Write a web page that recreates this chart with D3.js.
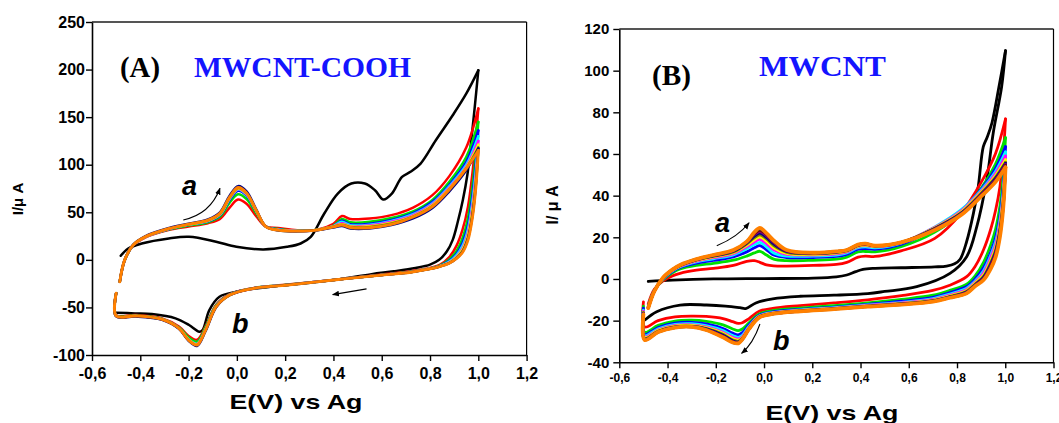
<!DOCTYPE html>
<html><head><meta charset="utf-8">
<script src="https://cdn.jsdelivr.net/npm/d3@7"></script>
<style>body{margin:0;background:#fff}svg{display:block}</style>
</head><body>
<svg id="c" width="1059" height="423"></svg>
<script>
// ---------- tick values ----------
const xTicks = [-0.6,-0.4,-0.2,0.0,0.2,0.4,0.6,0.8,1.0,1.2];
const yTicksA = [-100,-50,0,50,100,150,200,250];
const yTicksB = [-40,-20,0,20,40,60,80,100,120];
const seriesNamesA = ["red","green","blue","cyan","magenta","yellow","olive","navy","orange"];
const seriesColorsA = ["#ff0000","#00e000","#0000ff","#00ffff","#ff00ff","#ffff00","#808000","#000080","#ff8000"];
const seriesNamesB = ["red","green","blue","cyan","magenta","yellow","olive","navy","purple","maroon","darkgray","orange"];
const seriesColorsB = ["#ff0000","#00e000","#0000ff","#00ffff","#ff00ff","#ffff00","#808000","#000080","#800080","#800000","#404040","#ff8000"];

// ---------- Panel A: MWCNT-COOH ----------
const aBlackFwdE = [-0.481,-0.45,-0.394,-0.282,-0.198,-0.086,-0.002,0.11,0.208,0.264,0.306,0.362,0.418,0.474,0.53,0.572,0.607,0.642,0.684,0.719,0.761,0.824,0.894,0.95,1.0];
const aBlackFwdI = [4.3,12,17.2,22.5,24.2,19,13.7,11,13.7,17.2,24.2,48.7,69.7,80.2,80.2,73.2,63.4,69.7,87.2,92.5,101.2,125.7,152,174.7,199.2];
const aBlackRevE = [1.0,0.985,0.971,0.955,0.936,0.915,0.894,0.87,0.838,0.8,0.74,0.65,0.558,0.418,0.278,0.138,-0.002,-0.072,-0.114,-0.142,-0.156,-0.198,-0.254,-0.352,-0.422,-0.5];
const aBlackRevI = [199.2,160,126,90,63,40,21,9,0,-5,-8.5,-12,-15,-20.6,-24.8,-28.3,-33.5,-38.8,-52.8,-73.8,-75.5,-68.5,-61.5,-57,-56.3,-55.5];

const aFwdE = [-0.485,-0.465,-0.43,-0.38,-0.28,-0.2,-0.12,-0.07,-0.03,0.005,0.04,0.08,0.12,0.17,0.25,0.33,0.40,0.435,0.47,0.55,0.64,0.73,0.81,0.88,0.95,1.0];
const aFwdRed     = [-23,-1,15,23.5,31.5,35,38.5,43,55,63.5,59,46,35,33.5,31,31.5,38,46,43,43.5,47,55,68,88,118,159];
const aFwdGreen   = [-23,-0.8,15.2,23.8,32,36,39.5,45.5,60,69,64,49,35,32.5,30.6,31.3,36,43,39.5,40,44,51,63,82,108,145];
const aFwdBlue    = [-23,-0.6,15.3,24,32.5,37,40.5,47,63,72.5,67.5,51,35,32,30.4,31.2,35.5,41,37.5,38,42,49,61,79,103,136];
const aFwdCyan    = [-23,-0.5,15.4,24,32.6,37,40.8,47.5,64,74,68.5,51.3,35,31.8,30.4,31.3,35.5,40,36.5,37,41,48,59.5,77.5,100,130];
const aFwdMagenta = [-23,-0.4,15.4,24,32.7,37.2,41,47.8,64.5,74.5,69,51.5,35,31.6,30.3,31.3,35.3,38.5,35.5,36,40,47,58.5,76,98,125];
const aFwdYellow  = [-23,-0.3,15.5,24.1,32.8,37.3,41.2,48,65,75,69.5,51.8,35,31.5,30.3,31.3,35.2,37.5,35,35.2,39,46,57.5,75,97,121];
const aFwdOlive   = [-23,-0.3,15.5,24.2,33,37.5,41.5,48.5,65.5,75.5,70,52,35,31.2,30.2,31.3,35,37,34.5,34.6,38.2,45.5,56.5,74,96,118];
const aFwdNavy    = [-23,-0.2,15.8,24.8,33.5,38,42.5,50,67.5,77.5,72,53,35,31,30,31,34,35.5,33,33,36.5,43.5,54.5,72,94,117];
const aFwdOrange  = [-23,-0.3,15.5,24.2,33,37.5,41.7,49,66,76,70.4,52.2,35,31.2,30.2,31.2,34.7,36.5,34,33.8,37.2,45,56,74,96,115];

const aRevE = [1.0,0.99,0.976,0.957,0.935,0.91,0.88,0.84,0.8,0.72,0.6,0.42,0.21,0.07,-0.03,-0.085,-0.13,-0.165,-0.2,-0.24,-0.31,-0.42,-0.5,-0.5];
const aRevRed     = [159,128,92,55.7,32,15,3,-5.3,-8.5,-12,-15.5,-20.6,-26,-29.5,-36,-47,-70,-84,-80,-70,-61.5,-58,-58,-35];
const aRevGreen   = [145,112,78,44,23,9.5,0.5,-6,-9,-12.5,-15.8,-20.6,-26.2,-29.7,-36.3,-47.5,-71,-86,-81.5,-71,-62,-58.5,-58.5,-35];
const aRevBlue    = [136,102,68,36,18,6.5,-1,-6.5,-9.2,-12.7,-15.9,-20.6,-26.3,-29.8,-36.6,-48.5,-73,-89,-84,-72,-62.5,-59,-59,-35];
const aRevCyan    = [130,95,62,32,15,5,-1.8,-6.7,-9.3,-12.8,-16,-20.6,-26.4,-29.9,-36.8,-48.5,-73,-88,-83.5,-71.5,-62.3,-59,-59,-35];
const aRevMagenta = [125,89,57,28.5,12.5,3.5,-2.5,-6.8,-9.4,-12.9,-16,-20.6,-26.4,-30,-36.9,-48.8,-73.5,-88.5,-84,-72,-62.5,-59,-59,-35];
const aRevYellow  = [121,85,53,26,11,2.8,-3,-6.9,-9.4,-12.9,-16,-20.6,-26.5,-30,-37,-49,-73.8,-89,-84,-72,-62.5,-59,-59,-35];
const aRevOlive   = [118,81,49,23.5,9.5,2,-3.3,-7,-9.5,-13,-16,-20.6,-26.5,-30,-37,-49,-74,-89.5,-84.3,-72,-62.6,-59,-59,-35];
const aRevNavy    = [117,79,47,22,8.7,1.7,-3.5,-7,-9.5,-13,-16,-20.6,-26.5,-30,-37.2,-49.5,-75,-90.5,-85,-72.5,-63,-59.5,-59.5,-35];
const aRevOrange  = [115,76.7,45.2,20.7,8,1.5,-3.5,-7,-9.5,-13,-16,-20.6,-26.5,-30,-37,-49,-74,-89.5,-84.3,-72,-62.6,-59,-59,-35];

// ---------- Panel B: MWCNT ----------
const bBlackFwdE = [-0.48,-0.38,-0.21,0.0,0.204,0.3,0.343,0.38,0.41,0.46,0.568,0.708,0.757,0.79,0.813,0.84,0.868,0.888,0.909,0.925,0.945,0.975,1.001];
const bBlackFwdI = [-1.2,-0.6,0,0.2,0.4,1.0,1.9,3.5,4.6,5.1,5.4,5.8,6.2,7.3,9.5,18,31.5,44.3,63.5,68,75,93,109.6];
const bBlackRevE = [1.001,0.985,0.95,0.923,0.882,0.84,0.771,0.633,0.5,0.43,0.29,0.15,0.036,-0.034,-0.076,-0.1,-0.16,-0.238,-0.348,-0.445,-0.494];
const bBlackRevI = [109.6,92.3,70,47.5,25.1,10.7,2.7,-3.7,-6,-7,-7.8,-8.3,-9.5,-11.5,-14.2,-13.8,-13,-12.5,-12.5,-15.7,-19.7];

const bFwdE = [-0.48,-0.455,-0.42,-0.38,-0.348,-0.28,-0.21,-0.127,-0.072,-0.04,-0.017,0.01,0.04,0.094,0.204,0.3,0.343,0.39,0.42,0.46,0.568,0.708,0.82,0.903,0.959,1.001];
const bFwdRed      = [-12,-5,-1,1.5,2.7,4.2,5.1,6.5,8.5,8.8,8,6.8,6.3,6.2,6.5,7,8,10.5,11,10.8,13.5,19.5,32,47,60,76.8];
const bFwdGreen    = [-13,-5.5,-0.5,3,4.8,6.5,7.5,9,11,12.5,13.3,11.5,9.5,8.8,9,9.5,10.5,13,13.2,13,15.5,22.5,32,44,55,67.8];
const bFwdBlue     = [-13.3,-5.6,-0.2,3.6,5.5,7.6,8.9,10.6,13,15,16,14,11.5,10.3,10.3,10.8,11.8,14.3,14.6,14.2,16.6,24.5,33,43.5,53,63.5];
const bFwdCyan     = [-13.5,-5.7,0,3.9,5.9,8.2,9.7,11.6,14.5,16.5,17.6,15.5,12.5,11,11,11.5,12.5,15,15.4,15,17.2,25,33.5,43,51.5,61];
const bFwdMagenta  = [-13.6,-5.8,0.1,4.1,6.1,8.6,10.2,12.2,15.5,17.8,19,17,14,11.8,11.5,12,13,15.5,16,15.4,17.4,24.8,33,42.5,50.5,59];
const bFwdYellow   = [-13.7,-5.8,0.2,4.2,6.3,8.9,10.6,12.6,16.2,18.8,20.2,18.2,15,12.3,11.8,12.4,13.3,15.8,16.3,15.6,17.5,24.6,32.5,42,49.5,57.2];
const bFwdOlive    = [-13.8,-5.9,0.3,4.3,6.4,9.1,10.9,13,16.8,19.8,21.2,19.2,16,12.8,12.1,12.7,13.5,16,16.5,15.8,17.5,24.4,32,41.5,48.8,56];
const bFwdNavy     = [-13.8,-5.9,0.3,4.4,6.5,9.2,11.1,13.3,17.2,20.6,22,20,16.8,13.2,12.3,12.9,13.7,16.2,16.7,15.9,17.5,24.2,31.8,41,48.2,55.5];
const bFwdPurple   = [-13.9,-6,0.4,4.5,6.6,9.3,11.3,13.6,17.5,21.3,22.8,20.8,17.5,13.5,12.4,13,13.8,16.3,16.8,15.9,17.5,24,31.5,40.8,47.6,55];
const bFwdMaroon   = [-13.9,-6,0.4,4.5,6.6,9.4,11.4,13.7,17.7,21.8,23.4,21.4,18,13.7,12.5,13.1,13.9,16.4,16.9,16,17.6,23.8,31.3,40.5,47.2,54.5];
const bFwdDarkgray = [-14,-6,0.5,4.5,6.7,9.5,11.5,13.8,17.8,22.2,24,21.8,18.3,13.8,12.6,13.2,13.9,16.5,17,16,17.6,23.6,31.1,40.2,46.8,54];
const bFwdOrange   = [-14,-6,0.5,4.5,6.7,9.5,11.5,13.9,17.9,22.5,24.5,22,18.5,13.9,12.6,13.2,13.9,16.5,17,16,17.6,23.5,31,40,46.5,53.6];

const bRevE = [1.001,0.992,0.978,0.96,0.94,0.91,0.875,0.84,0.77,0.70,0.57,0.43,0.29,0.15,0.036,-0.02,-0.062,-0.09,-0.107,-0.13,-0.17,-0.24,-0.3,-0.369,-0.439,-0.495,-0.5];
const bRevRed      = [76.8,60,44.3,33,24,14,6,1.1,-3,-5.5,-8,-10,-11.5,-12.8,-14.1,-15.5,-19,-21,-21.3,-20.5,-19,-18,-17.8,-18.2,-20,-23,-11];
const bRevGreen    = [67.8,50,35,24,16.5,8,1.5,-2.5,-5.5,-7.8,-9.8,-11.5,-12.8,-14,-15.2,-16.8,-21,-24,-24.8,-24,-22,-20.3,-19.8,-20.2,-22.3,-25.5,-13];
const bRevBlue     = [63.5,45,30.5,20,13,5.5,0,-3.6,-6.5,-8.8,-10.7,-12.2,-13.5,-14.6,-15.8,-17.4,-22,-25.8,-26.8,-26,-23.8,-21.6,-20.8,-21.2,-23.3,-26.6,-14];
const bRevCyan     = [61,42.5,28.5,18,11.5,4,-1,-4.4,-7.2,-9.4,-11.2,-12.5,-13.8,-14.9,-16.1,-17.7,-22.7,-27,-28,-27.2,-24.8,-22.4,-21.5,-21.8,-23.9,-27.2,-15];
const bRevMagenta  = [59,41,27,16.5,10.3,3,-1.5,-5,-7.7,-9.8,-11.5,-12.7,-14,-15.1,-16.3,-17.9,-23.1,-27.7,-28.8,-28,-25.6,-23,-22,-22.3,-24.4,-27.7,-15.5];
const bRevYellow   = [57.2,39.5,25.5,15,9,2,-2,-5.5,-8.1,-10.1,-11.7,-12.9,-14.1,-15.2,-16.4,-18,-23.4,-28.2,-29.4,-28.6,-26.1,-23.4,-22.3,-22.6,-24.7,-28.1,-16];
const bRevOlive    = [56,38,24.3,14,8,1.3,-2.5,-5.9,-8.4,-10.3,-11.9,-13,-14.2,-15.3,-16.5,-18.2,-23.6,-28.5,-29.9,-29.2,-26.6,-23.7,-22.6,-22.9,-25,-28.5,-16];
const bRevNavy     = [55.5,37,23.3,13,7.2,0.8,-2.8,-6.2,-8.6,-10.5,-12,-13.1,-14.3,-15.4,-16.6,-18.3,-23.8,-28.8,-30.3,-29.7,-27,-24,-22.8,-23.1,-25.2,-28.8,-16.5];
const bRevPurple   = [55,36,22.3,12.2,6.5,0.3,-3,-6.5,-8.8,-10.7,-12.1,-13.2,-14.4,-15.4,-16.7,-18.4,-23.9,-29,-30.6,-30.1,-27.5,-24.2,-22.9,-23.2,-25.3,-29,-16.5];
const bRevMaroon   = [54.5,35.5,21.5,11.5,6,0,-3.2,-6.7,-8.9,-10.8,-12.2,-13.2,-14.4,-15.5,-16.7,-18.4,-24,-29,-30.8,-30.3,-27.8,-24.4,-23,-23.3,-25.4,-29.1,-17];
const bRevDarkgray = [54,35,21,11,5.5,-0.2,-3.4,-6.8,-9,-10.9,-12.3,-13.3,-14.5,-15.5,-16.8,-18.5,-24,-29,-30.9,-30.5,-28,-24.5,-23,-23.3,-25.5,-29.2,-17];
const bRevOrange   = [53.6,34.7,20.3,10.5,5,-0.5,-3.5,-6.9,-9,-10.9,-12.3,-13.3,-14.5,-15.5,-16.8,-18.5,-24,-29,-30.9,-30.5,-28,-24.5,-23,-23.3,-25.5,-29.3,-17];

// annotation arrows (data units): [E0, I0, Ectrl, Ictrl, E1, I1]
const aArrowUp   = [-0.222,41.9,-0.11,48,-0.07,75.2];
const aArrowBack = [0.537,-30.5,0.467,-33.5,0.397,-36.5];
const bArrowUp   = [-0.196,16,-0.11,20,-0.062,27];
const bArrowBack = [-0.017,-21.6,-0.045,-31,-0.093,-35.7];

// ---------- build tables ----------
const aFwdSeries = [aFwdRed,aFwdGreen,aFwdBlue,aFwdCyan,aFwdMagenta,aFwdYellow,aFwdOlive,aFwdNavy,aFwdOrange];
const aRevSeries = [aRevRed,aRevGreen,aRevBlue,aRevCyan,aRevMagenta,aRevYellow,aRevOlive,aRevNavy,aRevOrange];
const bFwdSeries = [bFwdRed,bFwdGreen,bFwdBlue,bFwdCyan,bFwdMagenta,bFwdYellow,bFwdOlive,bFwdNavy,bFwdPurple,bFwdMaroon,bFwdDarkgray,bFwdOrange];
const bRevSeries = [bRevRed,bRevGreen,bRevBlue,bRevCyan,bRevMagenta,bRevYellow,bRevOlive,bRevNavy,bRevPurple,bRevMaroon,bRevDarkgray,bRevOrange];

const zip = (E, I) => E.map((e, i) => [e, I[i]]);
const fmtX = d => (d < 0 ? "-" : "") + Math.abs(d).toFixed(1).replace(".", ",");
const fmtY = d => (d < 0 ? "-" : "") + Math.abs(d);

const svg = d3.select("#c");
svg.append("defs").append("marker")
  .attr("id","ah").attr("viewBox","0 0 10 10").attr("refX",9).attr("refY",5)
  .attr("markerWidth",7).attr("markerHeight",7).attr("orient","auto-start-reverse")
  .attr("markerUnits","userSpaceOnUse")
  .append("path").attr("d","M0,1 L10,5 L0,9 z").attr("fill","#000");

function panel(p) {
  const x = d3.scaleLinear([-0.6, 1.2], p.xr);
  const y = d3.scaleLinear(p.yd, p.yr);
  const g = svg.append("g");
  const line = d3.line().x(d => x(d[0])).y(d => y(d[1])).curve(d3.curveCatmullRom.alpha(0.5));

  g.append("line").attr("x1", p.xr[0]).attr("x2", p.xr[1]).attr("y1", p.yr[1]).attr("y2", p.yr[1])
    .attr("stroke", "#555").attr("stroke-width", 2);
  g.append("line").attr("x1", p.xr[1]).attr("x2", p.xr[1]).attr("y1", p.yr[1]).attr("y2", p.yr[0])
    .attr("stroke", "#000").attr("stroke-width", 1.2);

  const cg = g.append("g").attr("fill", "none").attr("stroke-linejoin", "round").attr("stroke-linecap", "round");
  cg.append("path").attr("d", line(zip(p.blackFwdE, p.blackFwdI))).attr("stroke", "#000").attr("stroke-width", p.lw);
  cg.append("path").attr("d", line(zip(p.blackRevE, p.blackRevI))).attr("stroke", "#000").attr("stroke-width", p.lw);
  p.fwd.forEach((s, i) => {
    const w = i === p.fwd.length - 1 ? p.lwLast : p.lw;
    cg.append("path").attr("d", line(zip(p.fwdE, s))).attr("stroke", p.colors[i]).attr("stroke-width", w);
    cg.append("path").attr("d", line(zip(p.revE, p.rev[i]))).attr("stroke", p.colors[i]).attr("stroke-width", w);
  });

  const xa = g.append("g").attr("transform", `translate(0,${p.yr[0]})`)
    .call(d3.axisBottom(x).tickValues(xTicks).tickFormat(fmtX).tickSize(6).tickSizeOuter(0).tickPadding(p.xPad));
  const ya = g.append("g").attr("transform", `translate(${p.xr[0]},0)`)
    .call(d3.axisLeft(y).tickValues(p.yTicks).tickFormat(fmtY).tickSize(6).tickSizeOuter(0).tickPadding(p.yPad));
  [xa, ya].forEach(a => {
    a.select(".domain").attr("stroke", "#000").attr("stroke-width", 1.6);
    a.selectAll(".tick line").attr("stroke", "#000").attr("stroke-width", 1.4);
    a.selectAll("text").attr("fill", "#000").attr("font-family", "'Liberation Sans', Arial, sans-serif").attr("font-weight", "bold");
  });
  xa.selectAll("text").attr("font-size", p.xFont);
  ya.selectAll("text").attr("font-size", p.yFont);

  const arrowPath = a => `M${x(a[0])},${y(a[1])} Q${x(a[2])},${y(a[3])} ${x(a[4])},${y(a[5])}`;
  p.arrows.forEach(a => g.append("path").attr("d", arrowPath(a)).attr("fill", "none")
    .attr("stroke", "#000").attr("stroke-width", 1.1).attr("marker-end", "url(#ah)"));
  return { x, y, g };
}

panel({
  xr: [92, 526.6], yd: [-100, 250], yr: [355, 22], yTicks: yTicksA,
  xFont: "16px", yFont: "16px", xPad: 7, yPad: 1,
  blackFwdE: aBlackFwdE, blackFwdI: aBlackFwdI, blackRevE: aBlackRevE, blackRevI: aBlackRevI,
  fwdE: aFwdE, revE: aRevE, fwd: aFwdSeries, rev: aRevSeries, colors: seriesColorsA,
  lw: 2.5, lwLast: 2.9, arrows: [aArrowUp, aArrowBack]
});
panel({
  xr: [619.3, 1053.5], yd: [-40, 120], yr: [362.3, 29], yTicks: yTicksB,
  xFont: "12px", yFont: "15px", xPad: 5, yPad: 4,
  blackFwdE: bBlackFwdE, blackFwdI: bBlackFwdI, blackRevE: bBlackRevE, blackRevI: bBlackRevI,
  fwdE: bFwdE, revE: bRevE, fwd: bFwdSeries, rev: bRevSeries, colors: seriesColorsB,
  lw: 2.8, lwLast: 3.8, arrows: [bArrowUp, bArrowBack]
});

// ---------- texts ----------
const sans = "'Liberation Sans', Arial, sans-serif";
const serif = "'Liberation Serif', 'Times New Roman', serif";
function txt(s, x, y, o) {
  const t = svg.append("text").attr("x", x).attr("y", y).text(s)
    .attr("font-family", o.ff).attr("font-size", o.fs).attr("font-weight", o.fw || "bold")
    .attr("fill", o.fill || "#000");
  if (o.italic) t.attr("font-style", "italic");
  if (o.anchor) t.attr("text-anchor", o.anchor);
  if (o.len) t.attr("textLength", o.len).attr("lengthAdjust", "spacingAndGlyphs");
  if (o.rot) t.attr("transform", `rotate(-90,${x},${y})`);
  return t;
}
txt("(A)", 120, 77, { ff: serif, fs: "29px", len: 40 });
txt("MWCNT-COOH", 194, 77, { ff: serif, fs: "29px", fill: "#1414ff", len: 217 });
txt("(B)", 652, 85, { ff: serif, fs: "29px", len: 39 });
txt("MWCNT", 759, 76, { ff: serif, fs: "30px", fill: "#1414ff", len: 127 });
txt("a", 182, 195, { ff: sans, fs: "27px", italic: true });
txt("b", 232, 333, { ff: sans, fs: "27px", italic: true });
txt("a", 715, 232, { ff: sans, fs: "27px", italic: true });
txt("b", 773, 350, { ff: sans, fs: "27px", italic: true });
txt("E(V) vs Ag", 296, 409, { ff: sans, fs: "21px", anchor: "middle", len: 133 });
txt("E(V) vs Ag", 832, 420, { ff: sans, fs: "21px", anchor: "middle", len: 133 });
txt("I/\u03bc A", 23, 199, { ff: sans, fs: "15px", anchor: "middle", rot: true });
txt("I/ \u03bc A", 558, 205, { ff: sans, fs: "16px", anchor: "middle", rot: true });
</script>
</body></html>
